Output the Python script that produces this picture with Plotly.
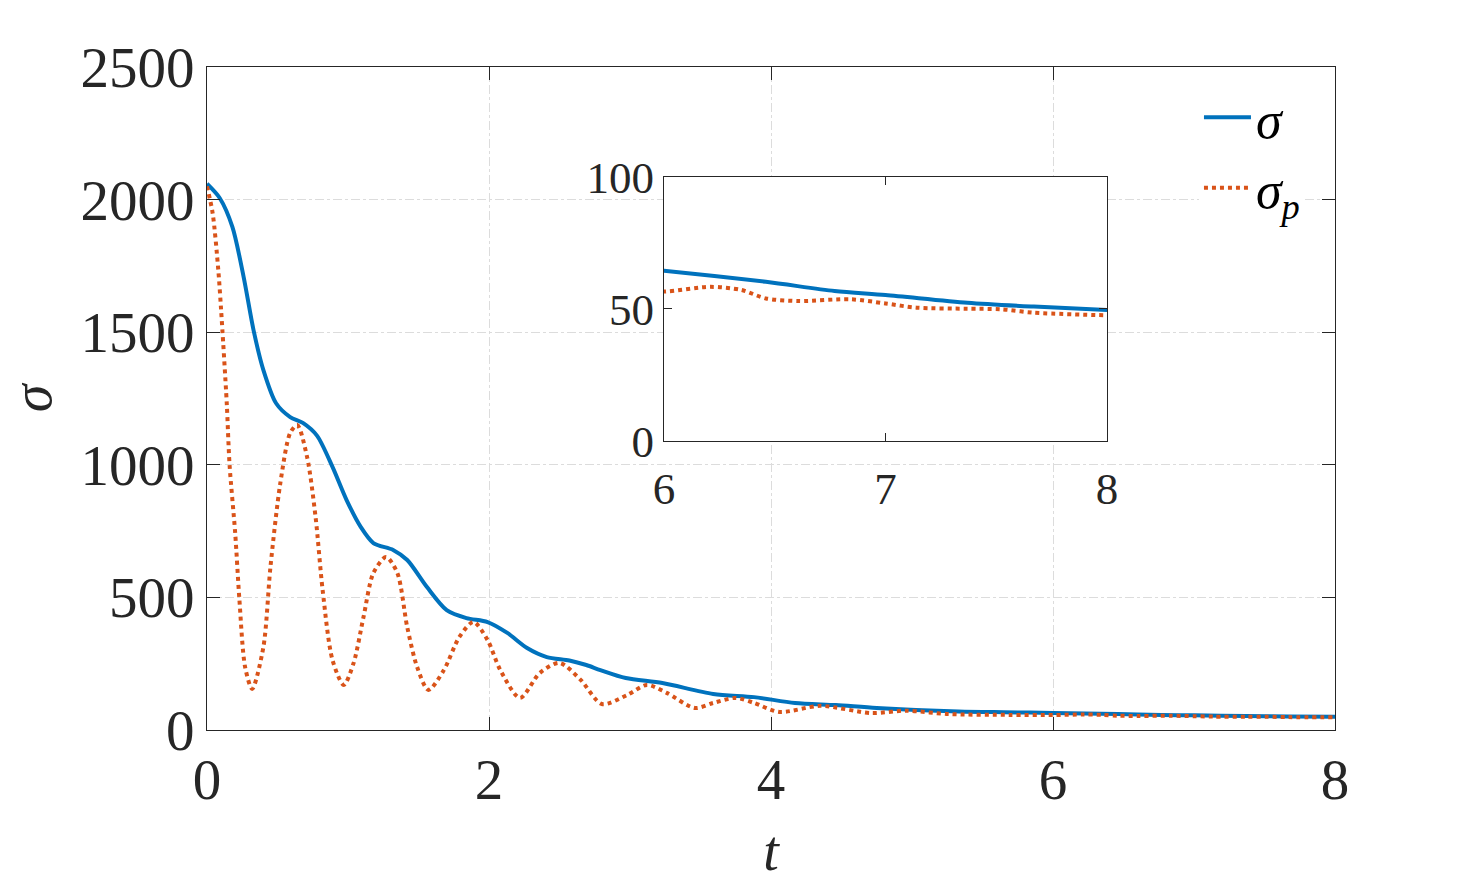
import plotly.graph_objects as go

# ---- data ----
t_sigma = [0, 0.09, 0.18, 0.26, 0.33, 0.40, 0.49, 0.59, 0.68, 0.78, 0.89, 0.99, 1.09, 1.18,
           1.32, 1.42, 1.56, 1.70, 1.84, 1.99, 2.13, 2.27, 2.41, 2.57, 2.69, 2.79, 2.97, 3.23,
           3.59, 3.88, 4.17, 4.46, 4.75, 5.33, 5.65, 6.0, 6.46, 6.77, 7.0, 7.37, 7.67, 8.0]
sigma = [2060, 2006, 1897, 1708, 1508, 1357, 1232, 1180, 1158, 1110, 992, 867, 766, 705,
         679, 641, 539, 452, 422, 407, 366, 309, 275, 262, 245, 226, 196, 177,
         136, 124, 102, 94, 83, 70, 67, 64.5, 60.3, 56.8, 55.3, 52.4, 50.9, 49.6]

t_sigma_p = [0, 0.04, 0.08, 0.10, 0.14, 0.16, 0.20, 0.23, 0.27, 0.32, 0.40, 0.45, 0.52, 0.59,
             0.64, 0.71, 0.77, 0.82, 0.89, 0.97, 1.04, 1.11, 1.18, 1.27, 1.35, 1.42, 1.49,
             1.57, 1.68, 1.79, 1.89, 1.99, 2.08, 2.22, 2.36, 2.50, 2.65, 2.80, 2.98, 3.12,
             3.26, 3.46, 3.59, 3.75, 3.88, 4.06, 4.35, 4.71, 4.96, 5.26, 5.69, 6.0, 6.21,
             6.35, 6.46, 6.61, 6.84, 7.0, 7.14, 7.37, 7.52, 7.67, 8.0]
sigma_p = [2050, 1949, 1735, 1584, 1233, 1000, 742, 490, 238, 155, 313, 615, 931, 1120,
           1150, 1029, 803, 528, 264, 170, 253, 426, 592, 652, 592, 388, 238,
           151, 226, 351, 407, 339, 226, 121, 215, 253, 189, 98, 132, 170,
           140, 83, 102, 121, 102, 68, 91, 64, 73, 60, 57, 56.6, 58.4,
           57.2, 54.0, 53.0, 53.7, 52.1, 50.5, 50.1, 49.9, 48.6, 47.6]

main_xticks = [0, 2, 4, 6, 8]
main_yticks = [0, 500, 1000, 1500, 2000, 2500]
inset_xticks = [6, 7, 8]
inset_yticks = [0, 50, 100]

BLUE = "#0072BD"
ORANGE = "#D95319"
AX = "#262626"
GRID = "#dcdcdc"
FONT = "Liberation Serif"

fig = go.Figure()

fig.add_trace(go.Scatter(x=t_sigma, y=sigma, mode="lines", name="<i>σ</i>",
                         line=dict(color=BLUE, width=4, shape="spline", smoothing=0.8),
                         xaxis="x", yaxis="y"))
fig.add_trace(go.Scatter(x=t_sigma_p, y=sigma_p, mode="lines", name="<i>σ<sub>p</sub></i>",
                         line=dict(color=ORANGE, width=4, dash="dot", shape="spline", smoothing=0.8),
                         xaxis="x", yaxis="y"))
# inset
fig.add_trace(go.Scatter(x=t_sigma, y=sigma, mode="lines", showlegend=False,
                         line=dict(color=BLUE, width=4, shape="spline", smoothing=0.8),
                         xaxis="x2", yaxis="y2"))
fig.add_trace(go.Scatter(x=t_sigma_p, y=sigma_p, mode="lines", showlegend=False,
                         line=dict(color=ORANGE, width=4, dash="dot", shape="spline", smoothing=0.8),
                         xaxis="x2", yaxis="y2"))

axis_common = dict(showline=True, linecolor=AX, linewidth=1, mirror="ticks",
                   ticks="inside", tickcolor=AX, tickwidth=1, zeroline=False)

fig.update_layout(
    width=1478, height=886,
    margin=dict(l=207, r=143, t=67, b=156),
    paper_bgcolor="white", plot_bgcolor="white",
    font=dict(family=FONT, color=AX),
    xaxis=dict(domain=[0, 1], range=[0, 8], tickvals=main_xticks,
               ticktext=[str(v) for v in main_xticks], ticklen=13,
               showgrid=True, gridcolor=GRID, griddash="dashdot", gridwidth=1,
               tickfont=dict(size=57, family=FONT, color=AX),
               title=dict(text="<i>t</i>", font=dict(size=56, family=FONT, color=AX), standoff=20),
               anchor="y", **axis_common),
    yaxis=dict(domain=[0, 1], range=[0, 2500], tickvals=main_yticks,
               ticktext=[str(v) for v in main_yticks], ticklen=13,
               showgrid=True, gridcolor=GRID, griddash="dashdot", gridwidth=1,
               tickfont=dict(size=57, family=FONT, color=AX),
               title=dict(text="<i>σ</i>", font=dict(size=56, family=FONT, color=AX), standoff=10),
               anchor="x", **axis_common),
    xaxis2=dict(domain=[0.4051, 0.7979], range=[6, 8], tickvals=inset_xticks,
                ticktext=[str(v) for v in inset_xticks], ticklen=8,
                showgrid=False, tickfont=dict(size=45, family=FONT, color=AX),
                ticklabelstandoff=8,
                anchor="y2", **axis_common),
    yaxis2=dict(domain=[0.4359, 0.8341], range=[0, 100], tickvals=inset_yticks,
                ticktext=[str(v) for v in inset_yticks], ticklen=8,
                showgrid=False, tickfont=dict(size=45, family=FONT, color=AX),
                anchor="x2", **axis_common),
    legend=dict(x=0.8794, y=0.985, xanchor="left", yanchor="top",
                bgcolor="white", borderwidth=0, itemwidth=47,
                font=dict(size=52, family=FONT, color="black"),
                tracegroupgap=0),
    showlegend=True,
)

fig.write_html("out.html")
